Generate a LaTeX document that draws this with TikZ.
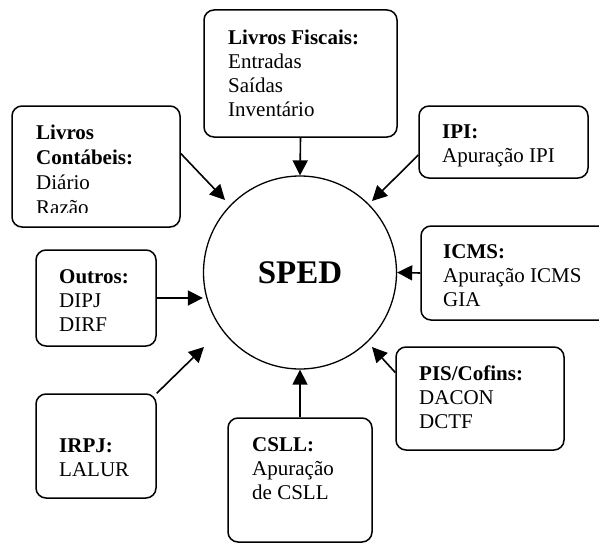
\documentclass[tikz,border=0pt]{standalone}
\usepackage{fontspec}
\setmainfont{Liberation Serif}
\usetikzlibrary{arrows.meta, positioning}

\tikzset{
  caixa/.style={draw, line width=1.5pt, rounded corners=10pt, inner sep=0pt},
  texto/.style={inner sep=0pt, anchor=base west, align=left,
    font=\fontsize{21}{23.7}\selectfont},
  seta/.style={-{Triangle[length=15pt, width=15pt]}, line width=1.6pt},
}

\begin{document}
\begin{tikzpicture}[x=1pt, y=-1pt]
        \useasboundingbox (0,0) rectangle (599,543);
        \clip (0,0) rectangle (599,543);
        % Centro
        \node[draw, circle, line width=1.3pt, minimum size=193pt, inner sep=0pt,
          font=\fontsize{33}{36}\selectfont\bfseries] (sped) at (300,272.5) {SPED};
        % Caixas
        \node[caixa, minimum width=193pt, minimum height=127pt] (fiscais) at (300.5,73.5) {};
        \node[caixa, minimum width=168pt, minimum height=121pt] (contabeis) at (96,166.5) {};
        \node[caixa, minimum width=169pt, minimum height=72pt] (ipi) at (503.5,142) {};
        \node[caixa, minimum width=219pt, minimum height=94pt] (icms) at (530.5,273) {};
        \node[caixa, minimum width=168pt, minimum height=103pt] (pis) at (480,398.5) {};
        \node[caixa, minimum width=120pt, minimum height=96pt] (outros) at (96,298) {};
        \node[caixa, minimum width=120pt, minimum height=104pt] (irpj) at (96,446) {};
        \node[caixa, minimum width=144pt, minimum height=124pt] (csll) at (300,480) {};
        % Textos (base = ultima linha)
        \node[texto] (fiscaisTxt) at (228,116)
          {\textbf{Livros Fiscais:}\\Entradas\\Saídas\\Inventário};
        \begin{scope}
          \clip (12,106) rectangle (180,212);
          \node[texto] (contabeisTxt) at (36,214)
            {\textbf{Livros}\\[1pt]\textbf{Contábeis:}\\[1pt]Diário\\[1pt]Razão};
        \end{scope}
        \node[texto] (ipiTxt) at (442,162) {\textbf{IPI:}\\Apuração IPI};
        \node[texto] (icmsTxt) at (443,306) {\textbf{ICMS:}\\Apuração ICMS\\GIA};
        \node[texto] (pisTxt) at (419,428) {\textbf{PIS/Cofins:}\\DACON\\DCTF};
        \node[texto] (outrosTxt) at (59,331) {\textbf{Outros:}\\DIPJ\\DIRF};
        \node[texto] (irpjTxt) at (59,476) {\textbf{IRPJ:}\\LALUR};
        \node[texto] (csllTxt) at (252,499) {\textbf{CSLL:}\\Apuração\\de CSLL};
        % Pontas das setas
        \coordinate (tContabeis) at (225,200);
        \coordinate (tIpi) at (372,201);
        \coordinate (tPis) at (372,347);
        \coordinate (tIrpj) at (204,347);
        % Setas
        \draw[seta] (fiscais.south) -- (sped.north);
        \draw[seta] ([yshift=13pt]contabeis.east) -- (tContabeis);
        \draw[seta] ([yshift=-13pt]ipi.west) -- (tIpi);
        \draw[seta] (icms.west) -- (sped.east);
        \draw[seta] ([yshift=26pt]pis.west) -- (tPis);
        \draw[seta] (csll.north) -- (sped.south);
        \draw[seta] (irpj.north east) -- (tIrpj);
        \draw[seta] (outros.east) -- (outros.east -| sped.west);
\end{tikzpicture}
\end{document}
